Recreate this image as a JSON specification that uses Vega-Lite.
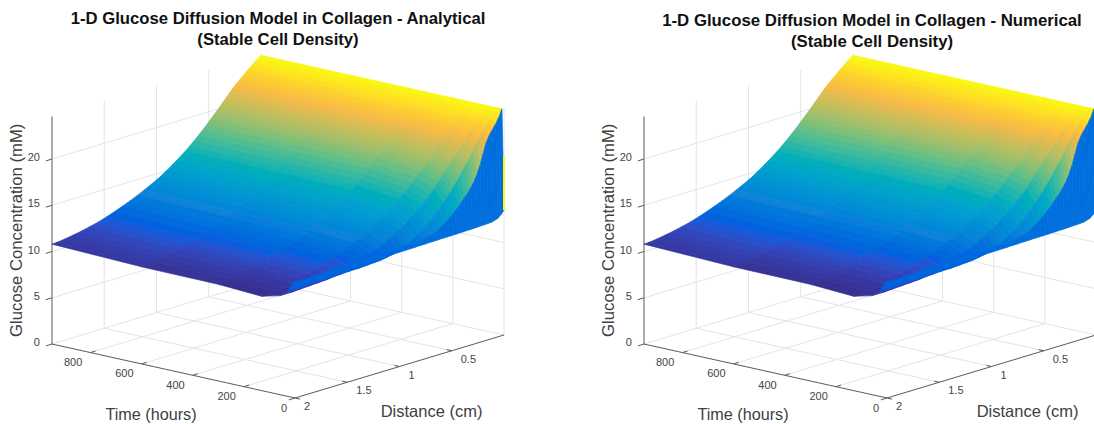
{"$schema":"https://vega.github.io/schema/vega-lite/v6.json","padding":{"top":11,"left":0,"right":0,"bottom":0},"background":"white","config":{"view":{"stroke":null},"concat":{"spacing":0}},
"datasets":{
"surface":[
{"d":0,"t":0,"c":13.5},{"d":0,"t":8,"c":24.4},{"d":0,"t":25,"c":24.4},{"d":0,"t":60,"c":24.4},{"d":0,"t":130,"c":24.4},{"d":0,"t":300,"c":24.4},{"d":0,"t":600,"c":24.4},{"d":0,"t":950,"c":24.4},
{"d":0.03,"t":0,"c":13.1},{"d":0.03,"t":8,"c":23.6},{"d":0.03,"t":25,"c":24},{"d":0.03,"t":60,"c":24.08},{"d":0.03,"t":130,"c":24.12},{"d":0.03,"t":300,"c":24.14},{"d":0.03,"t":600,"c":24.15},{"d":0.03,"t":950,"c":24.15},
{"d":0.06,"t":0,"c":12.8},{"d":0.06,"t":8,"c":23},{"d":0.06,"t":25,"c":23.55},{"d":0.06,"t":60,"c":23.74},{"d":0.06,"t":130,"c":23.82},{"d":0.06,"t":300,"c":23.87},{"d":0.06,"t":600,"c":23.87},{"d":0.06,"t":950,"c":23.88},
{"d":0.09,"t":0,"c":12.7},{"d":0.09,"t":8,"c":22.5},{"d":0.09,"t":25,"c":23.1},{"d":0.09,"t":60,"c":23.37},{"d":0.09,"t":130,"c":23.5},{"d":0.09,"t":300,"c":23.58},{"d":0.09,"t":600,"c":23.59},{"d":0.09,"t":950,"c":23.6},
{"d":0.12,"t":0,"c":12.6},{"d":0.12,"t":8,"c":22},{"d":0.12,"t":25,"c":22.65},{"d":0.12,"t":60,"c":23},{"d":0.12,"t":130,"c":23.17},{"d":0.12,"t":300,"c":23.28},{"d":0.12,"t":600,"c":23.28},{"d":0.12,"t":950,"c":23.3},
{"d":0.15,"t":0,"c":12.58},{"d":0.15,"t":8,"c":21.3},{"d":0.15,"t":25,"c":22.2},{"d":0.15,"t":60,"c":22.62},{"d":0.15,"t":130,"c":22.83},{"d":0.15,"t":300,"c":22.98},{"d":0.15,"t":600,"c":22.98},{"d":0.15,"t":950,"c":23},
{"d":0.18,"t":0,"c":12.56},{"d":0.18,"t":8,"c":20.2},{"d":0.18,"t":25,"c":21.65},{"d":0.18,"t":60,"c":22.25},{"d":0.18,"t":130,"c":22.5},{"d":0.18,"t":300,"c":22.67},{"d":0.18,"t":600,"c":22.67},{"d":0.18,"t":950,"c":22.7},
{"d":0.21,"t":0,"c":12.55},{"d":0.21,"t":8,"c":19},{"d":0.21,"t":25,"c":21.1},{"d":0.21,"t":60,"c":21.83},{"d":0.21,"t":130,"c":22.17},{"d":0.21,"t":300,"c":22.35},{"d":0.21,"t":600,"c":22.37},{"d":0.21,"t":950,"c":22.4},
{"d":0.24,"t":0,"c":12.54},{"d":0.24,"t":8,"c":18.1},{"d":0.24,"t":25,"c":20.5},{"d":0.24,"t":60,"c":21.37},{"d":0.24,"t":130,"c":21.79},{"d":0.24,"t":300,"c":22.03},{"d":0.24,"t":600,"c":22.06},{"d":0.24,"t":950,"c":22.1},
{"d":0.27,"t":0,"c":12.52},{"d":0.27,"t":8,"c":17.4},{"d":0.27,"t":25,"c":19.9},{"d":0.27,"t":60,"c":20.9},{"d":0.27,"t":130,"c":21.37},{"d":0.27,"t":300,"c":21.67},{"d":0.27,"t":600,"c":21.71},{"d":0.27,"t":950,"c":21.75},
{"d":0.3,"t":0,"c":12.5},{"d":0.3,"t":8,"c":16.85},{"d":0.3,"t":25,"c":19.4},{"d":0.3,"t":60,"c":20.43},{"d":0.3,"t":130,"c":20.96},{"d":0.3,"t":300,"c":21.28},{"d":0.3,"t":600,"c":21.33},{"d":0.3,"t":950,"c":21.37},
{"d":0.33,"t":0,"c":12.5},{"d":0.33,"t":8,"c":16.4},{"d":0.33,"t":25,"c":18.85},{"d":0.33,"t":60,"c":19.95},{"d":0.33,"t":130,"c":20.53},{"d":0.33,"t":300,"c":20.9},{"d":0.33,"t":600,"c":20.95},{"d":0.33,"t":950,"c":21},
{"d":0.36,"t":0,"c":12.5},{"d":0.36,"t":8,"c":16},{"d":0.36,"t":25,"c":18.3},{"d":0.36,"t":60,"c":19.5},{"d":0.36,"t":130,"c":20.1},{"d":0.36,"t":300,"c":20.5},{"d":0.36,"t":600,"c":20.57},{"d":0.36,"t":950,"c":20.62},
{"d":0.39,"t":0,"c":12.48},{"d":0.39,"t":8,"c":15.6},{"d":0.39,"t":25,"c":17.78},{"d":0.39,"t":60,"c":19.05},{"d":0.39,"t":130,"c":19.7},{"d":0.39,"t":300,"c":20.12},{"d":0.39,"t":600,"c":20.18},{"d":0.39,"t":950,"c":20.24},
{"d":0.42,"t":0,"c":12.48},{"d":0.42,"t":8,"c":15.2},{"d":0.42,"t":25,"c":17.3},{"d":0.42,"t":60,"c":18.62},{"d":0.42,"t":130,"c":19.3},{"d":0.42,"t":300,"c":19.73},{"d":0.42,"t":600,"c":19.8},{"d":0.42,"t":950,"c":19.86},
{"d":0.45,"t":0,"c":12.46},{"d":0.45,"t":8,"c":14.85},{"d":0.45,"t":25,"c":16.8},{"d":0.45,"t":60,"c":18.2},{"d":0.45,"t":130,"c":18.9},{"d":0.45,"t":300,"c":19.35},{"d":0.45,"t":600,"c":19.43},{"d":0.45,"t":950,"c":19.5},
{"d":0.48,"t":0,"c":12.46},{"d":0.48,"t":8,"c":14.55},{"d":0.48,"t":25,"c":16.4},{"d":0.48,"t":60,"c":17.78},{"d":0.48,"t":130,"c":18.53},{"d":0.48,"t":300,"c":18.98},{"d":0.48,"t":600,"c":19.07},{"d":0.48,"t":950,"c":19.14},
{"d":0.52,"t":0,"c":12.45},{"d":0.52,"t":8,"c":14.15},{"d":0.52,"t":25,"c":15.85},{"d":0.52,"t":60,"c":17.25},{"d":0.52,"t":130,"c":18.02},{"d":0.52,"t":300,"c":18.5},{"d":0.52,"t":600,"c":18.6},{"d":0.52,"t":950,"c":18.68},
{"d":0.56,"t":0,"c":12.45},{"d":0.56,"t":8,"c":13.8},{"d":0.56,"t":25,"c":15.3},{"d":0.56,"t":60,"c":16.74},{"d":0.56,"t":130,"c":17.54},{"d":0.56,"t":300,"c":18.03},{"d":0.56,"t":600,"c":18.14},{"d":0.56,"t":950,"c":18.22},
{"d":0.6,"t":0,"c":12.45},{"d":0.6,"t":8,"c":13.5},{"d":0.6,"t":25,"c":14.85},{"d":0.6,"t":60,"c":16.28},{"d":0.6,"t":130,"c":17.07},{"d":0.6,"t":300,"c":17.58},{"d":0.6,"t":600,"c":17.69},{"d":0.6,"t":950,"c":17.78},
{"d":0.64,"t":0,"c":12.43},{"d":0.64,"t":8,"c":13.25},{"d":0.64,"t":25,"c":14.45},{"d":0.64,"t":60,"c":15.85},{"d":0.64,"t":130,"c":16.63},{"d":0.64,"t":300,"c":17.13},{"d":0.64,"t":600,"c":17.25},{"d":0.64,"t":950,"c":17.35},
{"d":0.68,"t":0,"c":12.42},{"d":0.68,"t":8,"c":13.05},{"d":0.68,"t":25,"c":14.05},{"d":0.68,"t":60,"c":15.43},{"d":0.68,"t":130,"c":16.23},{"d":0.68,"t":300,"c":16.7},{"d":0.68,"t":600,"c":16.83},{"d":0.68,"t":950,"c":16.93},
{"d":0.72,"t":0,"c":12.42},{"d":0.72,"t":8,"c":12.9},{"d":0.72,"t":25,"c":13.7},{"d":0.72,"t":60,"c":15.03},{"d":0.72,"t":130,"c":15.85},{"d":0.72,"t":300,"c":16.3},{"d":0.72,"t":600,"c":16.44},{"d":0.72,"t":950,"c":16.55},
{"d":0.76,"t":0,"c":12.4},{"d":0.76,"t":8,"c":12.8},{"d":0.76,"t":25,"c":13.35},{"d":0.76,"t":60,"c":14.67},{"d":0.76,"t":130,"c":15.48},{"d":0.76,"t":300,"c":15.94},{"d":0.76,"t":600,"c":16.09},{"d":0.76,"t":950,"c":16.2},
{"d":0.8,"t":0,"c":12.4},{"d":0.8,"t":8,"c":12.75},{"d":0.8,"t":25,"c":13.05},{"d":0.8,"t":60,"c":14.33},{"d":0.8,"t":130,"c":15.12},{"d":0.8,"t":300,"c":15.58},{"d":0.8,"t":600,"c":15.73},{"d":0.8,"t":950,"c":15.85},
{"d":0.85,"t":0,"c":12.38},{"d":0.85,"t":8,"c":12.7},{"d":0.85,"t":25,"c":12.7},{"d":0.85,"t":60,"c":13.96},{"d":0.85,"t":130,"c":14.71},{"d":0.85,"t":300,"c":15.15},{"d":0.85,"t":600,"c":15.3},{"d":0.85,"t":950,"c":15.43},
{"d":0.9,"t":0,"c":12.37},{"d":0.9,"t":8,"c":12.7},{"d":0.9,"t":25,"c":12.45},{"d":0.9,"t":60,"c":13.6},{"d":0.9,"t":130,"c":14.33},{"d":0.9,"t":300,"c":14.74},{"d":0.9,"t":600,"c":14.9},{"d":0.9,"t":950,"c":15.03},
{"d":0.95,"t":0,"c":12.36},{"d":0.95,"t":8,"c":12.7},{"d":0.95,"t":25,"c":12.2},{"d":0.95,"t":60,"c":13.26},{"d":0.95,"t":130,"c":13.99},{"d":0.95,"t":300,"c":14.37},{"d":0.95,"t":600,"c":14.53},{"d":0.95,"t":950,"c":14.67},
{"d":1,"t":0,"c":12.35},{"d":1,"t":8,"c":12.7},{"d":1,"t":25,"c":12},{"d":1,"t":60,"c":12.95},{"d":1,"t":130,"c":13.68},{"d":1,"t":300,"c":14.03},{"d":1,"t":600,"c":14.18},{"d":1,"t":950,"c":14.33},
{"d":1.06,"t":0,"c":12.33},{"d":1.06,"t":8,"c":12.7},{"d":1.06,"t":25,"c":11.85},{"d":1.06,"t":60,"c":12.6},{"d":1.06,"t":130,"c":13.31},{"d":1.06,"t":300,"c":13.66},{"d":1.06,"t":600,"c":13.81},{"d":1.06,"t":950,"c":13.97},
{"d":1.12,"t":0,"c":12.32},{"d":1.12,"t":8,"c":12.7},{"d":1.12,"t":25,"c":11.75},{"d":1.12,"t":60,"c":12.28},{"d":1.12,"t":130,"c":12.98},{"d":1.12,"t":300,"c":13.31},{"d":1.12,"t":600,"c":13.46},{"d":1.12,"t":950,"c":13.63},
{"d":1.18,"t":0,"c":12.3},{"d":1.18,"t":8,"c":12.7},{"d":1.18,"t":25,"c":11.7},{"d":1.18,"t":60,"c":12},{"d":1.18,"t":130,"c":12.68},{"d":1.18,"t":300,"c":12.98},{"d":1.18,"t":600,"c":13.12},{"d":1.18,"t":950,"c":13.3},
{"d":1.25,"t":0,"c":12.28},{"d":1.25,"t":8,"c":12.7},{"d":1.25,"t":25,"c":11.65},{"d":1.25,"t":60,"c":11.67},{"d":1.25,"t":130,"c":12.33},{"d":1.25,"t":300,"c":12.62},{"d":1.25,"t":600,"c":12.76},{"d":1.25,"t":950,"c":12.95},
{"d":1.32,"t":0,"c":12.26},{"d":1.32,"t":8,"c":12.7},{"d":1.32,"t":25,"c":11.6},{"d":1.32,"t":60,"c":11.42},{"d":1.32,"t":130,"c":12},{"d":1.32,"t":300,"c":12.29},{"d":1.32,"t":600,"c":12.43},{"d":1.32,"t":950,"c":12.63},
{"d":1.4,"t":0,"c":12.25},{"d":1.4,"t":8,"c":12.7},{"d":1.4,"t":25,"c":11.6},{"d":1.4,"t":60,"c":11.2},{"d":1.4,"t":130,"c":11.67},{"d":1.4,"t":300,"c":11.93},{"d":1.4,"t":600,"c":12.07},{"d":1.4,"t":950,"c":12.28},
{"d":1.48,"t":0,"c":12.2},{"d":1.48,"t":8,"c":12.65},{"d":1.48,"t":25,"c":11.55},{"d":1.48,"t":60,"c":11},{"d":1.48,"t":130,"c":11.38},{"d":1.48,"t":300,"c":11.6},{"d":1.48,"t":600,"c":11.73},{"d":1.48,"t":950,"c":11.95},
{"d":1.56,"t":0,"c":12.16},{"d":1.56,"t":8,"c":12.6},{"d":1.56,"t":25,"c":11.55},{"d":1.56,"t":60,"c":10.9},{"d":1.56,"t":130,"c":11.1},{"d":1.56,"t":300,"c":11.32},{"d":1.56,"t":600,"c":11.45},{"d":1.56,"t":950,"c":11.68},
{"d":1.64,"t":0,"c":12.12},{"d":1.64,"t":8,"c":12.55},{"d":1.64,"t":25,"c":11.5},{"d":1.64,"t":60,"c":10.85},{"d":1.64,"t":130,"c":10.88},{"d":1.64,"t":300,"c":11.09},{"d":1.64,"t":600,"c":11.2},{"d":1.64,"t":950,"c":11.45},
{"d":1.72,"t":0,"c":12.06},{"d":1.72,"t":8,"c":12.5},{"d":1.72,"t":25,"c":11.5},{"d":1.72,"t":60,"c":10.8},{"d":1.72,"t":130,"c":10.68},{"d":1.72,"t":300,"c":10.89},{"d":1.72,"t":600,"c":10.99},{"d":1.72,"t":950,"c":11.25},
{"d":1.8,"t":0,"c":12},{"d":1.8,"t":8,"c":12.45},{"d":1.8,"t":25,"c":11.45},{"d":1.8,"t":60,"c":10.75},{"d":1.8,"t":130,"c":10.5},{"d":1.8,"t":300,"c":10.72},{"d":1.8,"t":600,"c":10.81},{"d":1.8,"t":950,"c":11.08},
{"d":1.88,"t":0,"c":11.95},{"d":1.88,"t":8,"c":12.4},{"d":1.88,"t":25,"c":11.4},{"d":1.88,"t":60,"c":10.7},{"d":1.88,"t":130,"c":10.35},{"d":1.88,"t":300,"c":10.57},{"d":1.88,"t":600,"c":10.65},{"d":1.88,"t":950,"c":10.93},
{"d":1.96,"t":0,"c":11.9},{"d":1.96,"t":8,"c":12.4},{"d":1.96,"t":25,"c":11.4},{"d":1.96,"t":60,"c":10.7},{"d":1.96,"t":130,"c":10.25},{"d":1.96,"t":300,"c":10.47},{"d":1.96,"t":600,"c":10.53},{"d":1.96,"t":950,"c":10.82},
{"d":2,"t":0,"c":11.9},{"d":2,"t":8,"c":12.4},{"d":2,"t":25,"c":11.4},{"d":2,"t":60,"c":10.7},{"d":2,"t":130,"c":10.2},{"d":2,"t":300,"c":10.45},{"d":2,"t":600,"c":10.5},{"d":2,"t":950,"c":10.8}
],
"lines":[
{"k":"g","t":200,"d":0,"z":0,"t2":200,"d2":2,"z2":0},{"k":"g","t":400,"d":0,"z":0,"t2":400,"d2":2,"z2":0},{"k":"g","t":600,"d":0,"z":0,"t2":600,"d2":2,"z2":0},{"k":"g","t":800,"d":0,"z":0,"t2":800,"d2":2,"z2":0},
{"k":"g","t":0,"d":0.5,"z":0,"t2":950,"d2":0.5,"z2":0},{"k":"g","t":0,"d":1,"z":0,"t2":950,"d2":1,"z2":0},{"k":"g","t":0,"d":1.5,"z":0,"t2":950,"d2":1.5,"z2":0},
{"k":"g","t":0,"d":0,"z":0,"t2":0,"d2":0,"z2":24.6},{"k":"g","t":200,"d":0,"z":0,"t2":200,"d2":0,"z2":24.6},{"k":"g","t":400,"d":0,"z":0,"t2":400,"d2":0,"z2":24.6},{"k":"g","t":600,"d":0,"z":0,"t2":600,"d2":0,"z2":24.6},{"k":"g","t":800,"d":0,"z":0,"t2":800,"d2":0,"z2":24.6},{"k":"g","t":950,"d":0,"z":0,"t2":950,"d2":0,"z2":24.6},
{"k":"g","t":950,"d":0.5,"z":0,"t2":950,"d2":0.5,"z2":24.6},{"k":"g","t":950,"d":1,"z":0,"t2":950,"d2":1,"z2":24.6},{"k":"g","t":950,"d":1.5,"z":0,"t2":950,"d2":1.5,"z2":24.6},
{"k":"g","t":0,"d":0,"z":0,"t2":950,"d2":0,"z2":0},{"k":"g","t":0,"d":0,"z":5,"t2":950,"d2":0,"z2":5},{"k":"g","t":0,"d":0,"z":10,"t2":950,"d2":0,"z2":10},{"k":"g","t":0,"d":0,"z":15,"t2":950,"d2":0,"z2":15},{"k":"g","t":0,"d":0,"z":20,"t2":950,"d2":0,"z2":20},
{"k":"g","t":950,"d":0,"z":0,"t2":950,"d2":2,"z2":0},{"k":"g","t":950,"d":0,"z":5,"t2":950,"d2":2,"z2":5},{"k":"g","t":950,"d":0,"z":10,"t2":950,"d2":2,"z2":10},{"k":"g","t":950,"d":0,"z":15,"t2":950,"d2":2,"z2":15},{"k":"g","t":950,"d":0,"z":20,"t2":950,"d2":2,"z2":20},
{"k":"a","t":950,"d":2,"z":0,"t2":950,"d2":2,"z2":24.6},{"k":"a","t":0,"d":2,"z":0,"t2":950,"d2":2,"z2":0},{"k":"a","t":0,"d":0,"z":0,"t2":0,"d2":2,"z2":0},
{"k":"a","t":950,"d":2,"z":0,"t2":950,"d2":2.06,"z2":0},{"k":"a","t":950,"d":2,"z":5,"t2":950,"d2":2.06,"z2":5},{"k":"a","t":950,"d":2,"z":10,"t2":950,"d2":2.06,"z2":10},{"k":"a","t":950,"d":2,"z":15,"t2":950,"d2":2.06,"z2":15},{"k":"a","t":950,"d":2,"z":20,"t2":950,"d2":2.06,"z2":20},
{"k":"a","t":0,"d":2,"z":0,"t2":0,"d2":2.06,"z2":0},{"k":"a","t":200,"d":2,"z":0,"t2":200,"d2":1.95,"z2":0},{"k":"a","t":400,"d":2,"z":0,"t2":400,"d2":1.95,"z2":0},{"k":"a","t":600,"d":2,"z":0,"t2":600,"d2":1.95,"z2":0},{"k":"a","t":800,"d":2,"z":0,"t2":800,"d2":1.95,"z2":0},
{"k":"a","t":0,"d":2,"z":0,"t2":-20,"d2":2,"z2":0},{"k":"a","t":0,"d":0.5,"z":0,"t2":20,"d2":0.5,"z2":0},{"k":"a","t":0,"d":1,"z":0,"t2":20,"d2":1,"z2":0},{"k":"a","t":0,"d":1.5,"z":0,"t2":20,"d2":1.5,"z2":0},
{"k":"y","t":0,"d":0,"z":13.5,"t2":0,"d2":0,"z2":19.3}
],
"labels":[
{"k":"z","t":950,"d":2,"z":0,"s":"0"},{"k":"z","t":950,"d":2,"z":5,"s":"5"},{"k":"z","t":950,"d":2,"z":10,"s":"10"},{"k":"z","t":950,"d":2,"z":15,"s":"15"},{"k":"z","t":950,"d":2,"z":20,"s":"20"},
{"k":"t","t":0,"d":2,"z":0,"s":"0"},{"k":"t","t":200,"d":2,"z":0,"s":"200"},{"k":"t","t":400,"d":2,"z":0,"s":"400"},{"k":"t","t":600,"d":2,"z":0,"s":"600"},{"k":"t","t":800,"d":2,"z":0,"s":"800"},
{"k":"d","t":0,"d":0.5,"z":0,"s":"0.5"},{"k":"d","t":0,"d":1,"z":0,"s":"1"},{"k":"d","t":0,"d":1.5,"z":0,"s":"1.5"},{"k":"d","t":0,"d":2,"z":0,"s":"2"},
{"k":"Z","t":950,"d":2,"z":12.3,"s":"Glucose Concentration (mM)"},{"k":"T","t":475,"d":2,"z":0,"s":"Time (hours)"},{"k":"D","t":0,"d":1,"z":0,"s":"Distance (cm)"}
]},
"hconcat":[
{"width":592,"height":378,
"title":{"text":["1-D Glucose Diffusion Model in Collagen - Analytical","(Stable Cell Density)"],"font":"Liberation Sans","fontSize":16.7,"fontWeight":"bold","color":"#111111","lineHeight":21,"anchor":"middle","dx":-18,"offset":0},
"resolve":{"scale":{"color":"independent"}},
"layer":[
{"data":{"name":"lines"},"transform":[{"filter":"datum.k=='g'"},{"calculate":"504-0.2558*datum.t-104.5*datum.d","as":"x"},{"calculate":"332+31.5*datum.d-0.0568*datum.t-9.25*datum.z","as":"y"},{"calculate":"504-0.2558*datum.t2-104.5*datum.d2","as":"xe"},{"calculate":"332+31.5*datum.d2-0.0568*datum.t2-9.25*datum.z2","as":"ye"}],"mark":{"type":"rule","color":"#e4e4e4","strokeWidth":1},"encoding":{"x":{"field":"x","type":"quantitative","scale":{"domain":[0,592]},"axis":null},"y":{"field":"y","type":"quantitative","scale":{"domain":[424,46]},"axis":null},"x2":{"field":"xe"},"y2":{"field":"ye"}}},
{"data":{"name":"lines"},"transform":[{"filter":"datum.k=='a'"},{"calculate":"504-0.2558*datum.t-104.5*datum.d","as":"x"},{"calculate":"332+31.5*datum.d-0.0568*datum.t-9.25*datum.z","as":"y"},{"calculate":"504-0.2558*datum.t2-104.5*datum.d2","as":"xe"},{"calculate":"332+31.5*datum.d2-0.0568*datum.t2-9.25*datum.z2","as":"ye"}],"mark":{"type":"rule","color":"#5a5a5a","strokeWidth":1},"encoding":{"x":{"field":"x","type":"quantitative","scale":{"domain":[0,592]},"axis":null},"y":{"field":"y","type":"quantitative","scale":{"domain":[424,46]},"axis":null},"x2":{"field":"xe"},"y2":{"field":"ye"}}},
{"data":{"name":"surface"},"transform":[{"window":[{"op":"lead","field":"c","as":"cd"},{"op":"lead","field":"d","as":"dn"}],"groupby":["t"],"sort":[{"field":"d"}]},{"window":[{"op":"lead","field":"c","as":"ct"},{"op":"lead","field":"t","as":"tn"},{"op":"lead","field":"cd","as":"cdt"}],"groupby":["d"],"sort":[{"field":"t"}]},{"filter":"datum.tn!=null && datum.dn!=null"},{"calculate":"datum.t==0 ? min(datum.c,12.5) : (datum.c+datum.cd+datum.ct+datum.cdt)/4","as":"cc"},{"calculate":"datum.d*1000-datum.t","as":"o"},{"calculate":"{type:'Feature',properties:{},geometry:{type:'Polygon',coordinates:[[[504-0.2558*datum.t-104.5*datum.d,286+31.5*datum.d-0.0568*datum.t-9.25*datum.c],[504-0.2558*datum.tn-104.5*datum.d,286+31.5*datum.d-0.0568*datum.tn-9.25*datum.ct],[504-0.2558*datum.tn-104.5*datum.dn,286+31.5*datum.dn-0.0568*datum.tn-9.25*datum.cdt],[504-0.2558*datum.t-104.5*datum.dn,286+31.5*datum.dn-0.0568*datum.t-9.25*datum.cd],[504-0.2558*datum.t-104.5*datum.d,286+31.5*datum.d-0.0568*datum.t-9.25*datum.c]]]}}","as":"g"}],"projection":{"type":"identity","scale":1,"translate":[0,0]},"mark":{"type":"geoshape","strokeWidth":0.7},"encoding":{"shape":{"field":"g","type":"geojson"},"order":{"field":"o","type":"quantitative"},"color":{"field":"cc","type":"quantitative","legend":null,"scale":{"domain":[10.2,10.9,11.76,13.35,14.93,16.5,18.1,19.67,21.25,21.92,22.82,24.4],"range":["#352a87","#353dad","#0f5cdd","#1281d8","#079ccf","#15b1b4","#59bd8c","#a5be6b","#e1ba52","#f8bb44","#fcce2e","#f9fb0e"]}},"stroke":{"field":"cc","type":"quantitative","legend":null,"scale":{"domain":[10.2,10.9,11.76,13.35,14.93,16.5,18.1,19.67,21.25,21.92,22.82,24.4],"range":["#352a87","#353dad","#0f5cdd","#1281d8","#079ccf","#15b1b4","#59bd8c","#a5be6b","#e1ba52","#f8bb44","#fcce2e","#f9fb0e"]}}}},
{"data":{"name":"lines"},"transform":[{"filter":"datum.k=='y'"},{"calculate":"504-0.2558*datum.t-104.5*datum.d","as":"x"},{"calculate":"332+31.5*datum.d-0.0568*datum.t-9.25*datum.z","as":"y"},{"calculate":"332+31.5*datum.d2-0.0568*datum.t2-9.25*datum.z2","as":"ye"}],"mark":{"type":"rule","color":"#f9fb0e","strokeWidth":2},"encoding":{"x":{"field":"x","type":"quantitative","scale":{"domain":[0,592]},"axis":null},"y":{"field":"y","type":"quantitative","scale":{"domain":[424,46]},"axis":null},"y2":{"field":"ye"}}},
{"data":{"name":"labels"},"transform":[{"filter":"datum.k=='z'"},{"calculate":"504-0.2558*datum.t-104.5*datum.d","as":"x"},{"calculate":"332+31.5*datum.d-0.0568*datum.t-9.25*datum.z","as":"y"}],"mark":{"type":"text","font":"Liberation Sans","fontSize":11,"color":"#444444","align":"right","dx":-12,"dy":-1},"encoding":{"x":{"field":"x","type":"quantitative","scale":{"domain":[0,592]},"axis":null},"y":{"field":"y","type":"quantitative","scale":{"domain":[424,46]},"axis":null},"text":{"field":"s"}}},
{"data":{"name":"labels"},"transform":[{"filter":"datum.k=='t'"},{"calculate":"504-0.2558*datum.t-104.5*datum.d","as":"x"},{"calculate":"332+31.5*datum.d-0.0568*datum.t-9.25*datum.z","as":"y"}],"mark":{"type":"text","font":"Liberation Sans","fontSize":11,"color":"#444444","align":"right","dx":-8,"dy":10.5},"encoding":{"x":{"field":"x","type":"quantitative","scale":{"domain":[0,592]},"axis":null},"y":{"field":"y","type":"quantitative","scale":{"domain":[424,46]},"axis":null},"text":{"field":"s"}}},
{"data":{"name":"labels"},"transform":[{"filter":"datum.k=='d'"},{"calculate":"504-0.2558*datum.t-104.5*datum.d","as":"x"},{"calculate":"332+31.5*datum.d-0.0568*datum.t-9.25*datum.z","as":"y"}],"mark":{"type":"text","font":"Liberation Sans","fontSize":11,"color":"#444444","align":"left","dx":9,"dy":9},"encoding":{"x":{"field":"x","type":"quantitative","scale":{"domain":[0,592]},"axis":null},"y":{"field":"y","type":"quantitative","scale":{"domain":[424,46]},"axis":null},"text":{"field":"s"}}},
{"data":{"name":"labels"},"transform":[{"filter":"datum.k=='Z'"},{"calculate":"504-0.2558*datum.t-104.5*datum.d","as":"x"},{"calculate":"332+31.5*datum.d-0.0568*datum.t-9.25*datum.z","as":"y"}],"mark":{"type":"text","font":"Liberation Sans","fontSize":16.7,"color":"#404040","angle":270,"align":"center","dy":-35},"encoding":{"x":{"field":"x","type":"quantitative","scale":{"domain":[0,592]},"axis":null},"y":{"field":"y","type":"quantitative","scale":{"domain":[424,46]},"axis":null},"text":{"field":"s"}}},
{"data":{"name":"labels"},"transform":[{"filter":"datum.k=='T'"},{"calculate":"504-0.2558*datum.t-104.5*datum.d","as":"x"},{"calculate":"332+31.5*datum.d-0.0568*datum.t-9.25*datum.z","as":"y"}],"mark":{"type":"text","font":"Liberation Sans","fontSize":16.2,"color":"#404040","align":"center","dx":-22.5,"dy":44},"encoding":{"x":{"field":"x","type":"quantitative","scale":{"domain":[0,592]},"axis":null},"y":{"field":"y","type":"quantitative","scale":{"domain":[424,46]},"axis":null},"text":{"field":"s"}}},
{"data":{"name":"labels"},"transform":[{"filter":"datum.k=='D'"},{"calculate":"504-0.2558*datum.t-104.5*datum.d","as":"x"},{"calculate":"332+31.5*datum.d-0.0568*datum.t-9.25*datum.z","as":"y"}],"mark":{"type":"text","font":"Liberation Sans","fontSize":16.5,"color":"#404040","align":"center","dx":32,"dy":45.5},"encoding":{"x":{"field":"x","type":"quantitative","scale":{"domain":[0,592]},"axis":null},"y":{"field":"y","type":"quantitative","scale":{"domain":[424,46]},"axis":null},"text":{"field":"s"}}}
]},
{"width":502,"height":378,
"title":{"text":["1-D Glucose Diffusion Model in Collagen - Numerical","(Stable Cell Density)"],"font":"Liberation Sans","fontSize":16.8,"fontWeight":"bold","color":"#111111","lineHeight":21,"anchor":"middle","dx":29,"dy":2,"offset":0},
"resolve":{"scale":{"color":"independent"}},
"layer":[
{"data":{"name":"lines"},"transform":[{"filter":"datum.k=='g'"},{"calculate":"504-0.2558*datum.t-104.5*datum.d","as":"x"},{"calculate":"332+31.5*datum.d-0.0568*datum.t-9.25*datum.z","as":"y"},{"calculate":"504-0.2558*datum.t2-104.5*datum.d2","as":"xe"},{"calculate":"332+31.5*datum.d2-0.0568*datum.t2-9.25*datum.z2","as":"ye"}],"mark":{"type":"rule","color":"#e4e4e4","strokeWidth":1,"clip":true},"encoding":{"x":{"field":"x","type":"quantitative","scale":{"domain":[0,502]},"axis":null},"y":{"field":"y","type":"quantitative","scale":{"domain":[424,46]},"axis":null},"x2":{"field":"xe"},"y2":{"field":"ye"}}},
{"data":{"name":"lines"},"transform":[{"filter":"datum.k=='a'"},{"calculate":"504-0.2558*datum.t-104.5*datum.d","as":"x"},{"calculate":"332+31.5*datum.d-0.0568*datum.t-9.25*datum.z","as":"y"},{"calculate":"504-0.2558*datum.t2-104.5*datum.d2","as":"xe"},{"calculate":"332+31.5*datum.d2-0.0568*datum.t2-9.25*datum.z2","as":"ye"}],"mark":{"type":"rule","color":"#5a5a5a","strokeWidth":1,"clip":true},"encoding":{"x":{"field":"x","type":"quantitative","scale":{"domain":[0,502]},"axis":null},"y":{"field":"y","type":"quantitative","scale":{"domain":[424,46]},"axis":null},"x2":{"field":"xe"},"y2":{"field":"ye"}}},
{"data":{"name":"surface"},"transform":[{"window":[{"op":"lead","field":"c","as":"cd"},{"op":"lead","field":"d","as":"dn"}],"groupby":["t"],"sort":[{"field":"d"}]},{"window":[{"op":"lead","field":"c","as":"ct"},{"op":"lead","field":"t","as":"tn"},{"op":"lead","field":"cd","as":"cdt"}],"groupby":["d"],"sort":[{"field":"t"}]},{"filter":"datum.tn!=null && datum.dn!=null"},{"calculate":"datum.t==0 ? min(datum.c,12.5) : (datum.c+datum.cd+datum.ct+datum.cdt)/4","as":"cc"},{"calculate":"datum.d*1000-datum.t","as":"o"},{"calculate":"{type:'Feature',properties:{},geometry:{type:'Polygon',coordinates:[[[504-0.2558*datum.t-104.5*datum.d,286+31.5*datum.d-0.0568*datum.t-9.25*datum.c],[504-0.2558*datum.tn-104.5*datum.d,286+31.5*datum.d-0.0568*datum.tn-9.25*datum.ct],[504-0.2558*datum.tn-104.5*datum.dn,286+31.5*datum.dn-0.0568*datum.tn-9.25*datum.cdt],[504-0.2558*datum.t-104.5*datum.dn,286+31.5*datum.dn-0.0568*datum.t-9.25*datum.cd],[504-0.2558*datum.t-104.5*datum.d,286+31.5*datum.d-0.0568*datum.t-9.25*datum.c]]]}}","as":"g"}],"projection":{"type":"identity","scale":1,"translate":[0,0]},"mark":{"type":"geoshape","strokeWidth":0.7,"clip":true},"encoding":{"shape":{"field":"g","type":"geojson"},"order":{"field":"o","type":"quantitative"},"color":{"field":"cc","type":"quantitative","legend":null,"scale":{"domain":[10.2,10.9,11.76,13.35,14.93,16.5,18.1,19.67,21.25,21.92,22.82,24.4],"range":["#352a87","#353dad","#0f5cdd","#1281d8","#079ccf","#15b1b4","#59bd8c","#a5be6b","#e1ba52","#f8bb44","#fcce2e","#f9fb0e"]}},"stroke":{"field":"cc","type":"quantitative","legend":null,"scale":{"domain":[10.2,10.9,11.76,13.35,14.93,16.5,18.1,19.67,21.25,21.92,22.82,24.4],"range":["#352a87","#353dad","#0f5cdd","#1281d8","#079ccf","#15b1b4","#59bd8c","#a5be6b","#e1ba52","#f8bb44","#fcce2e","#f9fb0e"]}}}},
{"data":{"name":"labels"},"transform":[{"filter":"datum.k=='z'"},{"calculate":"504-0.2558*datum.t-104.5*datum.d","as":"x"},{"calculate":"332+31.5*datum.d-0.0568*datum.t-9.25*datum.z","as":"y"}],"mark":{"type":"text","font":"Liberation Sans","fontSize":11,"color":"#444444","align":"right","dx":-12,"dy":-1},"encoding":{"x":{"field":"x","type":"quantitative","scale":{"domain":[0,502]},"axis":null},"y":{"field":"y","type":"quantitative","scale":{"domain":[424,46]},"axis":null},"text":{"field":"s"}}},
{"data":{"name":"labels"},"transform":[{"filter":"datum.k=='t'"},{"calculate":"504-0.2558*datum.t-104.5*datum.d","as":"x"},{"calculate":"332+31.5*datum.d-0.0568*datum.t-9.25*datum.z","as":"y"}],"mark":{"type":"text","font":"Liberation Sans","fontSize":11,"color":"#444444","align":"right","dx":-8,"dy":10.5},"encoding":{"x":{"field":"x","type":"quantitative","scale":{"domain":[0,502]},"axis":null},"y":{"field":"y","type":"quantitative","scale":{"domain":[424,46]},"axis":null},"text":{"field":"s"}}},
{"data":{"name":"labels"},"transform":[{"filter":"datum.k=='d'"},{"calculate":"504-0.2558*datum.t-104.5*datum.d","as":"x"},{"calculate":"332+31.5*datum.d-0.0568*datum.t-9.25*datum.z","as":"y"}],"mark":{"type":"text","font":"Liberation Sans","fontSize":11,"color":"#444444","align":"left","dx":9,"dy":9},"encoding":{"x":{"field":"x","type":"quantitative","scale":{"domain":[0,502]},"axis":null},"y":{"field":"y","type":"quantitative","scale":{"domain":[424,46]},"axis":null},"text":{"field":"s"}}},
{"data":{"name":"labels"},"transform":[{"filter":"datum.k=='Z'"},{"calculate":"504-0.2558*datum.t-104.5*datum.d","as":"x"},{"calculate":"332+31.5*datum.d-0.0568*datum.t-9.25*datum.z","as":"y"}],"mark":{"type":"text","font":"Liberation Sans","fontSize":16.7,"color":"#404040","angle":270,"align":"center","dy":-35},"encoding":{"x":{"field":"x","type":"quantitative","scale":{"domain":[0,502]},"axis":null},"y":{"field":"y","type":"quantitative","scale":{"domain":[424,46]},"axis":null},"text":{"field":"s"}}},
{"data":{"name":"labels"},"transform":[{"filter":"datum.k=='T'"},{"calculate":"504-0.2558*datum.t-104.5*datum.d","as":"x"},{"calculate":"332+31.5*datum.d-0.0568*datum.t-9.25*datum.z","as":"y"}],"mark":{"type":"text","font":"Liberation Sans","fontSize":16.2,"color":"#404040","align":"center","dx":-22.5,"dy":44},"encoding":{"x":{"field":"x","type":"quantitative","scale":{"domain":[0,502]},"axis":null},"y":{"field":"y","type":"quantitative","scale":{"domain":[424,46]},"axis":null},"text":{"field":"s"}}},
{"data":{"name":"labels"},"transform":[{"filter":"datum.k=='D'"},{"calculate":"504-0.2558*datum.t-104.5*datum.d","as":"x"},{"calculate":"332+31.5*datum.d-0.0568*datum.t-9.25*datum.z","as":"y"}],"mark":{"type":"text","font":"Liberation Sans","fontSize":16.5,"color":"#404040","align":"center","dx":36,"dy":45.5},"encoding":{"x":{"field":"x","type":"quantitative","scale":{"domain":[0,502]},"axis":null},"y":{"field":"y","type":"quantitative","scale":{"domain":[424,46]},"axis":null},"text":{"field":"s"}}}
]}
]}
